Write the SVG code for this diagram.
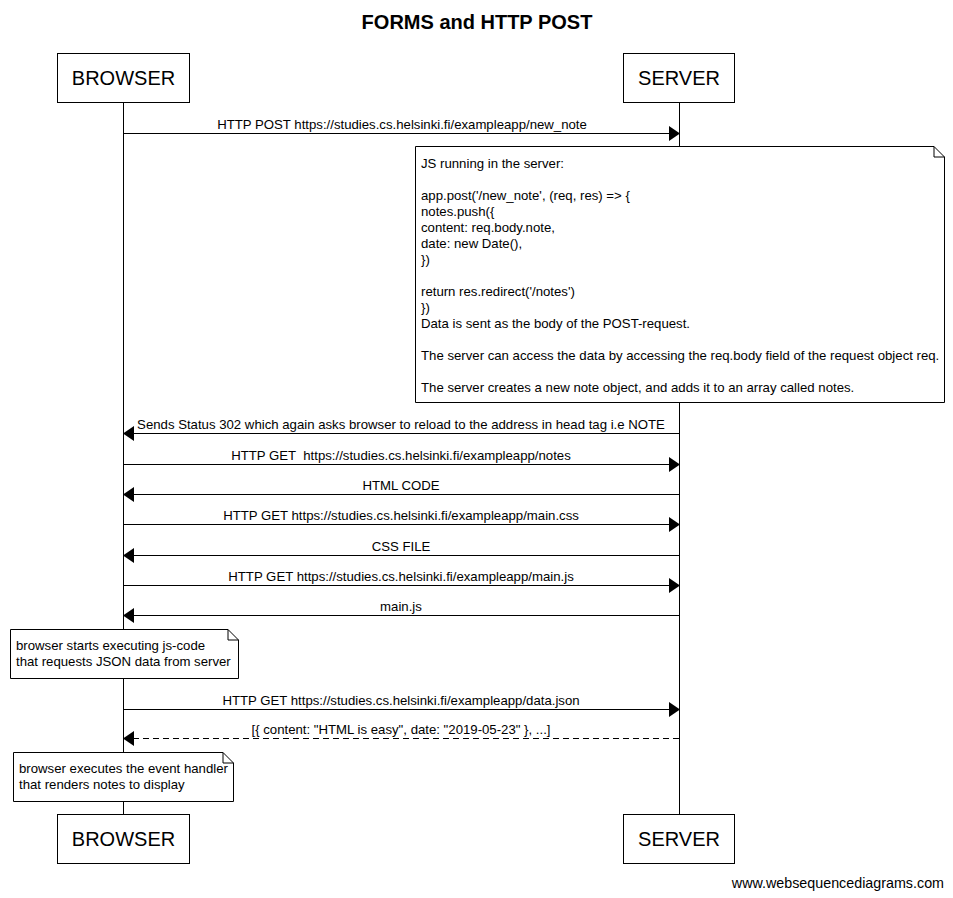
<svg xmlns="http://www.w3.org/2000/svg" width="953" height="898" viewBox="0 0 953 898">
<style>
text{font-family:"Liberation Sans",Arial,sans-serif;fill:#000}
.t{font-size:13.2px}
.m{font-size:13.2px;text-anchor:middle}
.actor{font-size:20px;text-anchor:middle}
.box{fill:#fff;stroke:#000;stroke-width:1}
.life{stroke:#000;stroke-width:1}
.msg{stroke:#000;stroke-width:1;fill:none}
.dash{stroke-dasharray:6,4}
.head{fill:#000}
</style>
<rect width="953" height="898" fill="#fff"/>
<text x="477" y="29" style="font-size:20px;font-weight:bold;text-anchor:middle">FORMS and HTTP POST</text>
<g id="lifelines">
<line class="life" x1="123.5" y1="102" x2="123.5" y2="814"/>
<line class="life" x1="679.5" y1="102" x2="679.5" y2="814"/>
</g>
<g id="BROWSER">
<rect class="box" x="57.5" y="53.5" width="132" height="49"/>
<text class="actor" x="123.5" y="85">BROWSER</text>
<rect class="box" x="57.5" y="814.5" width="132" height="49"/>
<text class="actor" x="123.5" y="846">BROWSER</text>
</g>
<g id="SERVER">
<rect class="box" x="623.5" y="53.5" width="111" height="49"/>
<text class="actor" x="679" y="85">SERVER</text>
<rect class="box" x="623.5" y="814.5" width="111" height="49"/>
<text class="actor" x="679" y="846">SERVER</text>
</g>
<g id="connectors">
<line class="msg" x1="123.5" y1="133.5" x2="670" y2="133.5"/>
<polygon class="head" points="680,133.5 669,126 669,141"/>
<text class="m" x="402" y="129">HTTP POST https://studies.cs.helsinki.fi/exampleapp/new_note</text>

<line class="msg" x1="133" y1="433.5" x2="679.5" y2="433.5"/>
<polygon class="head" points="123,433.5 134,426 134,441"/>
<text class="m" x="401" y="429">Sends Status 302 which again asks browser to reload to the address in head tag i.e NOTE</text>

<line class="msg" x1="123.5" y1="464.5" x2="670" y2="464.5"/>
<polygon class="head" points="680,464.5 669,457 669,472"/>
<text class="m" x="401" y="460" style="white-space:pre">HTTP GET  https://studies.cs.helsinki.fi/exampleapp/notes</text>

<line class="msg" x1="133" y1="494.5" x2="679.5" y2="494.5"/>
<polygon class="head" points="123,494.5 134,487 134,502"/>
<text class="m" x="401" y="490">HTML CODE</text>

<line class="msg" x1="123.5" y1="524.5" x2="670" y2="524.5"/>
<polygon class="head" points="680,524.5 669,517 669,532"/>
<text class="m" x="401" y="520">HTTP GET https://studies.cs.helsinki.fi/exampleapp/main.css</text>

<line class="msg" x1="133" y1="555.5" x2="679.5" y2="555.5"/>
<polygon class="head" points="123,555.5 134,548 134,563"/>
<text class="m" x="401" y="551">CSS FILE</text>

<line class="msg" x1="123.5" y1="585.5" x2="670" y2="585.5"/>
<polygon class="head" points="680,585.5 669,578 669,593"/>
<text class="m" x="401" y="581">HTTP GET https://studies.cs.helsinki.fi/exampleapp/main.js</text>

<line class="msg" x1="133" y1="615.5" x2="679.5" y2="615.5"/>
<polygon class="head" points="123,615.5 134,608 134,623"/>
<text class="m" x="401" y="611">main.js</text>

<line class="msg" x1="123.5" y1="709.5" x2="670" y2="709.5"/>
<polygon class="head" points="680,709.5 669,702 669,717"/>
<text class="m" x="401" y="705">HTTP GET https://studies.cs.helsinki.fi/exampleapp/data.json</text>

<line class="msg dash" x1="133" y1="738.5" x2="679.5" y2="738.5"/>
<polygon class="head" points="123,738.5 134,731 134,746"/>
<text class="m" x="401" y="734">[{ content: "HTML is easy", date: "2019-05-23" }, ...]</text>
</g>
<g id="note-server">
<path class="box" d="M415.5,146.5 H934 L944.5,157 V402.5 H415.5 Z"/>
<path class="msg" d="M934,146.5 V157 H944.5"/>
<text class="t" x="421" y="168">JS running in the server:</text>
<text class="t" x="421" y="200">app.post('/new_note', (req, res) =&gt; {</text>
<text class="t" x="421" y="216">notes.push({</text>
<text class="t" x="421" y="232">content: req.body.note,</text>
<text class="t" x="421" y="248">date: new Date(),</text>
<text class="t" x="421" y="264">})</text>
<text class="t" x="421" y="296">return res.redirect('/notes')</text>
<text class="t" x="421" y="312">})</text>
<text class="t" x="421" y="328">Data is sent as the body of the POST-request.</text>
<text class="t" x="421" y="360">The server can access the data by accessing the req.body field of the request object req.</text>
<text class="t" x="421" y="392">The server creates a new note object, and adds it to an array called notes.</text>
</g>
<g id="note-browser-1">
<path class="box" d="M10.5,629.5 H228 L238.5,640 V678.5 H10.5 Z"/>
<path class="msg" d="M228,629.5 V640 H238.5"/>
<text class="t" x="16" y="650">browser starts executing js-code</text>
<text class="t" x="16" y="666">that requests JSON data from server</text>
</g>
<g id="note-browser-2">
<path class="box" d="M13.5,752.5 H223 L233.5,763 V801.5 H13.5 Z"/>
<path class="msg" d="M223,752.5 V763 H233.5"/>
<text class="t" x="19" y="773">browser executes the event handler</text>
<text class="t" x="19" y="789">that renders notes to display</text>
</g>
<text x="944" y="888" style="font-size:14.3px;text-anchor:end">www.websequencediagrams.com</text>
</svg>
